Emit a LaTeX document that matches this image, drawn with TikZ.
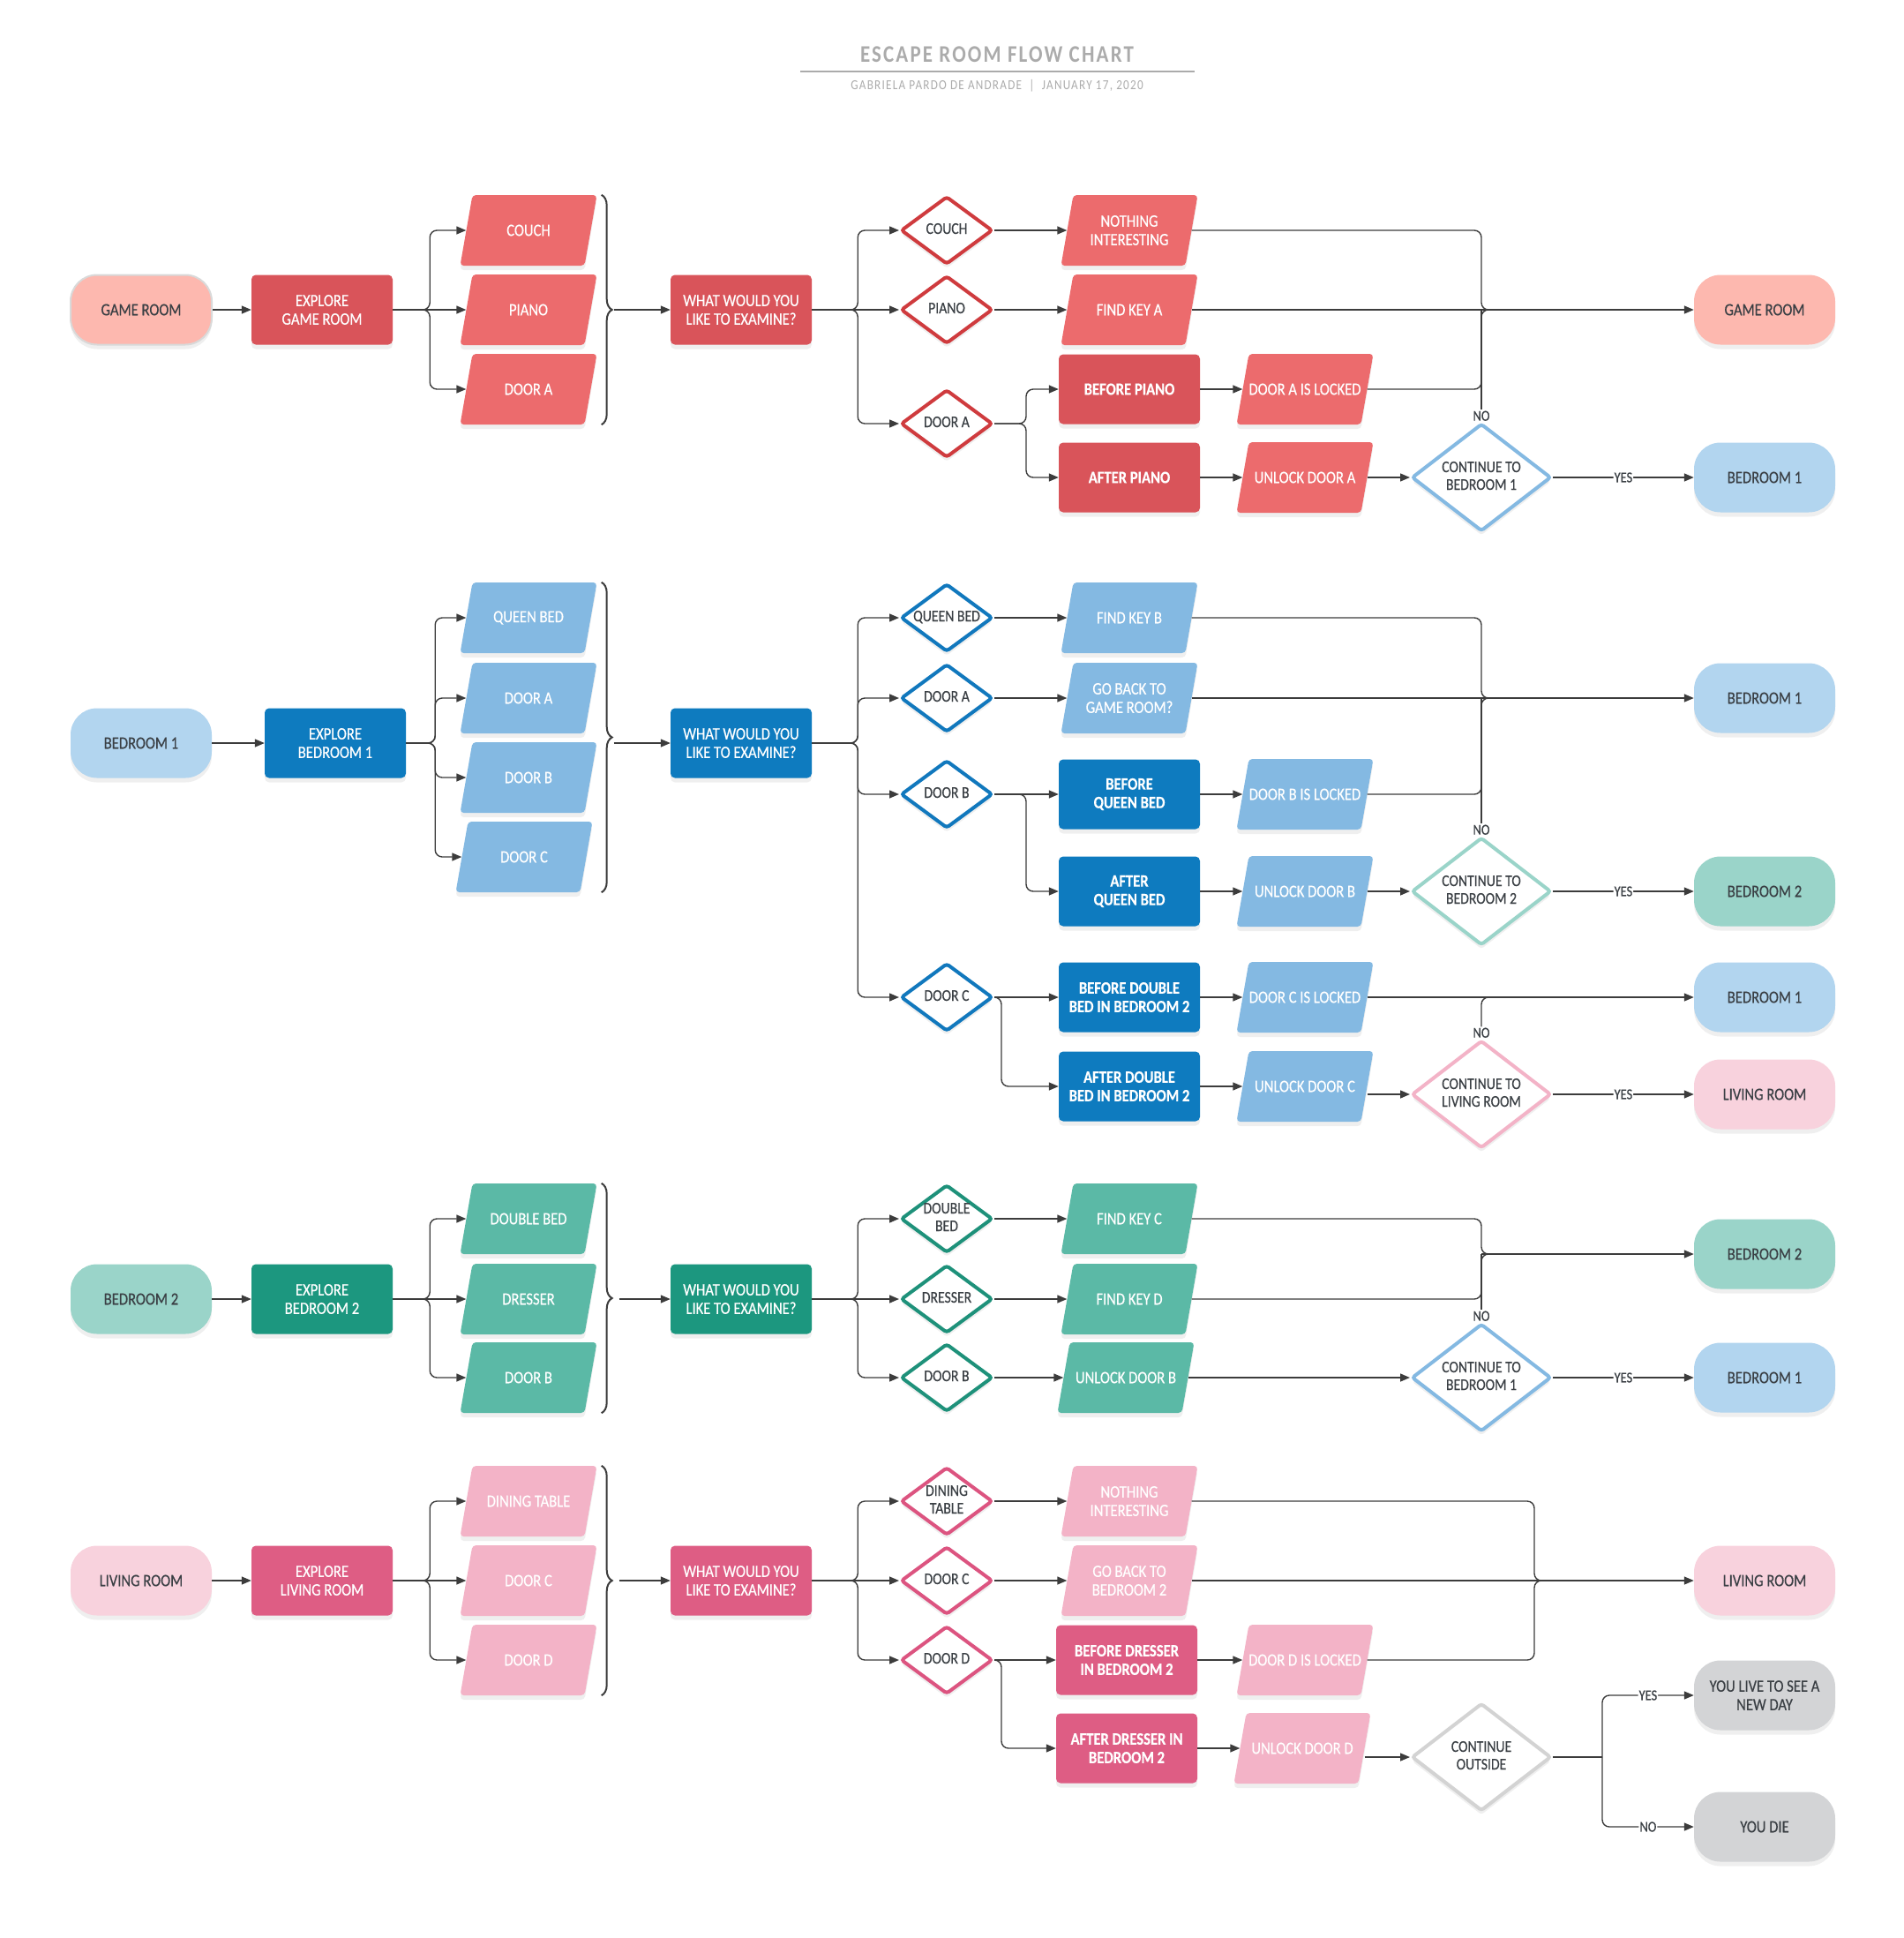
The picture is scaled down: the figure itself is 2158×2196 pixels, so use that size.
\documentclass[tikz,border=0pt]{standalone}
\usepackage{fontspec}
\setmainfont{Carlito}[FakeStretch=0.85,FakeBold=0.4]
\newfontfamily\titlefont{Carlito}[FakeStretch=0.85,LetterSpace=8]
\usetikzlibrary{shapes.geometric,arrows.meta,shadows,decorations.pathreplacing,calc}
\definecolor{txt}{HTML}{3A3F44}
\definecolor{lc}{HTML}{3C3C3C}
\definecolor{titlec}{HTML}{ABABAB}
\definecolor{redT}{HTML}{FDB8AF}
\definecolor{redP}{HTML}{D9545A}
\definecolor{redI}{HTML}{EC6B6D}
\definecolor{redD}{HTML}{CF3B3E}
\definecolor{blueT}{HTML}{B2D5EF}
\definecolor{blueP}{HTML}{0E7BBF}
\definecolor{blueI}{HTML}{84B9E2}
\definecolor{blueD}{HTML}{1178BD}
\definecolor{tealT}{HTML}{9AD4C9}
\definecolor{tealP}{HTML}{1C977F}
\definecolor{tealI}{HTML}{5BB9A6}
\definecolor{tealD}{HTML}{1E917A}
\definecolor{pinkT}{HTML}{F8D2DD}
\definecolor{pinkP}{HTML}{DE5D84}
\definecolor{pinkI}{HTML}{F3B3C7}
\definecolor{pinkD}{HTML}{DC5480}
\definecolor{grayT}{HTML}{D3D4D6}
\definecolor{grayD}{HTML}{D3D3D3}
\newcommand{\dt}[1]{\makebox[0pt]{\begin{tabular}{@{}c@{}}#1\end{tabular}}}
\tikzset{
  shd/.style={drop shadow={shadow xshift=0pt,shadow yshift=-5pt,opacity=0.13}},
  base/.style={font=\fontsize{19.5}{21}\selectfont, align=center, inner sep=2pt},
  term/.style={base, shd, rounded corners=30pt, minimum width=160pt, minimum height=79pt, text=txt},
  proc/.style={base, shd, rounded corners=5pt, minimum width=160pt, minimum height=79pt, text=white},
  bproc/.style={proc, font=\fontsize{19.5}{21}\selectfont\bfseries},
  iotext/.style={base, minimum width=141pt, minimum height=80pt, text=white},
  dec/.style={diamond, fill=white, line width=4pt, rounded corners=3pt, minimum width=104pt, minimum height=77pt,
    inner sep=0pt, font=\fontsize{18.5}{20}\selectfont, text=txt, shd},
  cont/.style={dec, minimum width=158pt, minimum height=122pt},
  lbl/.style={fill=white, inner sep=1pt, font=\fontsize{17}{18}\selectfont, text=txt},
  ln/.style={draw=lc, line width=1.4pt, rounded corners=8pt},
  arr/.style={ln, -{Triangle[length=11pt,width=9pt]}},
  brc/.style={draw=lc, line width=2pt, decorate, decoration={brace, amplitude=12pt}}
}
% parallelogram: name, x, y, colour, text
\newcommand{\para}[5]{%
  \fill[#4, rounded corners=4pt, shd] (#2-77.5,#3+40) -- (#2+63.5,#3+40) -- (#2+77.5,#3-40) -- (#2-63.5,#3-40) -- cycle;
  \node[iotext] (#1) at (#2,#3) {#5};}
\begin{document}
\begin{tikzpicture}[x=1pt,y=-1pt]
\useasboundingbox (0,0) rectangle (2158,2196);
% title
\node[font=\titlefont\fontsize{27}{30}\selectfont\bfseries, text=titlec] (title) at (1130,62) {ESCAPE ROOM FLOW CHART};
\draw[titlec, line width=2pt] (907,81) -- (1354,81);
\node[font=\titlefont\fontsize{15.5}{16}\selectfont, text=titlec] (sub) at (1130,97) {GABRIELA PARDO DE ANDRADE \ | \ JANUARY 17, 2020};

% ===== Section 1: game room =====
\node[term, fill=redT, draw=gray!30, line width=2pt] (s1) at (160,351) {GAME ROOM};
\node[proc, fill=redP] (x1) at (365,351) {EXPLORE\\GAME ROOM};
\para{p1a}{599}{261}{redI}{COUCH}
\para{p1b}{599}{351}{redI}{PIANO}
\para{p1c}{599}{441}{redI}{DOOR A}
\node[proc, fill=redP] (q1) at (840,351) {WHAT WOULD YOU\\LIKE TO EXAMINE?};
\node[dec, draw=redD] (d1a) at (1073,261) {\dt{COUCH}};
\node[dec, draw=redD] (d1b) at (1073,351) {\dt{PIANO}};
\node[dec, draw=redD] (d1c) at (1073,480) {\dt{DOOR A}};
\para{r1a}{1280}{261}{redI}{NOTHING\\INTERESTING}
\para{r1b}{1280}{351}{redI}{FIND KEY A}
\node[bproc, fill=redP] (b1) at (1280,441) {BEFORE PIANO};
\node[bproc, fill=redP] (a1) at (1280,541) {AFTER PIANO};
\para{l1}{1479}{441}{redI}{DOOR A IS LOCKED}
\para{u1}{1479}{541}{redI}{UNLOCK DOOR A}
\node[cont, draw=blueI] (c1) at (1679,541) {\dt{CONTINUE TO\\BEDROOM 1}};
\node[term, fill=redT] (e1a) at (2000,351) {GAME ROOM};
\node[term, fill=blueT] (e1b) at (2000,541) {BEDROOM 1};
\node[lbl, anchor=south] (n1) at (c1.north) {NO};

\draw[arr] (s1) -- (x1);
\draw[arr] (x1.east) -- (p1b.west);
\foreach \t in {p1a,p1c} \draw[arr] (x1.east) -- ([xshift=42pt]x1.east) |- (\t.west);
\draw[brc] ([xshift=12pt]p1a.north east) -- ([xshift=12pt]p1a.north east |- p1c.south);
\coordinate (bt1) at ([xshift=26pt]p1a.north east |- q1.west);
\draw[arr] (bt1) -- (q1.west);
\draw[arr] (q1.east) -- (d1b.west);
\foreach \t in {d1a,d1c} \draw[arr] (q1.east) -- ([xshift=52pt]q1.east) |- (\t.west);
\draw[arr] (d1a) -- (r1a);
\draw[arr] (d1b) -- (r1b);
\foreach \t in {b1,a1} \draw[arr] (d1c.east) -- ([xshift=36pt]d1c.east) |- (\t.west);
\draw[arr] (b1) -- (l1);
\draw[arr] (a1) -- (u1);
\draw[arr] (u1) -- (c1);
\draw[arr] (c1) -- node[lbl]{YES} (e1b);
\draw[arr] (r1b.east) -- (e1a.west);
\coordinate (m1) at (c1.north |- e1a.west);
\draw[ln] (r1a.east) -| (m1) -- ++(25,0);
\draw[ln] (l1.east) -| (m1) -- ++(25,0);
\draw[ln] (n1.north) -- (m1);

% ===== Section 2: bedroom 1 =====
\node[term, fill=blueT] (s2) at (160,842) {BEDROOM 1};
\node[proc, fill=blueP] (x2) at (380,842) {EXPLORE\\BEDROOM 1};
\para{p2a}{599}{700}{blueI}{QUEEN BED}
\para{p2b}{599}{791}{blueI}{DOOR A}
\para{p2c}{599}{881}{blueI}{DOOR B}
\para{p2d}{594}{971}{blueI}{DOOR C}
\node[proc, fill=blueP] (q2) at (840,842) {WHAT WOULD YOU\\LIKE TO EXAMINE?};
\node[dec, draw=blueD] (d2a) at (1073,700) {\dt{QUEEN BED}};
\node[dec, draw=blueD] (d2b) at (1073,791) {\dt{DOOR A}};
\node[dec, draw=blueD] (d2c) at (1073,900) {\dt{DOOR B}};
\node[dec, draw=blueD] (d2d) at (1073,1130) {\dt{DOOR C}};
\para{r2a}{1280}{700}{blueI}{FIND KEY B}
\para{r2b}{1280}{791}{blueI}{GO BACK TO\\GAME ROOM?}
\node[bproc, fill=blueP] (b2) at (1280,900) {BEFORE\\QUEEN BED};
\node[bproc, fill=blueP] (a2) at (1280,1010) {AFTER\\QUEEN BED};
\para{l2}{1479}{900}{blueI}{DOOR B IS LOCKED}
\para{u2}{1479}{1010}{blueI}{UNLOCK DOOR B}
\node[cont, draw=tealT] (c2) at (1679,1010) {\dt{CONTINUE TO\\BEDROOM 2}};
\node[term, fill=blueT] (e2a) at (2000,791) {BEDROOM 1};
\node[term, fill=tealT] (e2b) at (2000,1010) {BEDROOM 2};
\node[bproc, fill=blueP] (b3) at (1280,1130) {BEFORE DOUBLE\\BED IN BEDROOM 2};
\node[bproc, fill=blueP] (a3) at (1280,1231) {AFTER DOUBLE\\BED IN BEDROOM 2};
\para{l3}{1479}{1130}{blueI}{DOOR C IS LOCKED}
\para{u3}{1479}{1231}{blueI}{UNLOCK DOOR C}
\node[cont, draw=pinkI] (c3) at (1679,1240) {\dt{CONTINUE TO\\LIVING ROOM}};
\node[term, fill=blueT] (e2c) at (2000,1130) {BEDROOM 1};
\node[term, fill=pinkT] (e2d) at (2000,1240) {LIVING ROOM};
\node[lbl, anchor=south] (n2) at (c2.north) {NO};
\node[lbl, anchor=south] (n3) at (c3.north) {NO};

\draw[arr] (s2) -- (x2);
\foreach \t in {p2a,p2b,p2c,p2d} \draw[arr] (x2.east) -- ([xshift=33pt]x2.east) |- (\t.west);
\draw[brc] ([xshift=12pt]p2a.north east) -- ([xshift=12pt]p2a.north east |- p2d.south);
\coordinate (bt2) at ([xshift=26pt]p2a.north east |- q2.west);
\draw[arr] (bt2) -- (q2.west);
\foreach \t in {d2a,d2b,d2c,d2d} \draw[arr] (q2.east) -- ([xshift=52pt]q2.east) |- (\t.west);
\draw[arr] (d2a) -- (r2a);
\draw[arr] (d2b) -- (r2b);
\draw[arr] (d2c) -- (b2);
\draw[arr] (d2c.east) -- ([xshift=36pt]d2c.east) |- (a2.west);
\draw[arr] (b2) -- (l2);
\draw[arr] (a2) -- (u2);
\draw[arr] (u2) -- (c2);
\draw[arr] (c2) -- node[lbl]{YES} (e2b);
\draw[arr] (r2b.east) -- (e2a.west);
\coordinate (m2) at (c2.north |- e2a.west);
\draw[ln] (r2a.east) -| (m2) -- ++(25,0);
\draw[ln] (l2.east) -| (m2) -- ++(25,0);
\draw[ln] (n2.north) -- (m2);
\draw[arr] (d2d) -- (b3);
\draw[arr] (d2d.east) -- ([xshift=8pt]d2d.east) |- (a3.west);
\draw[arr] (b3) -- (l3);
\draw[arr] (a3) -- (u3);
\draw[arr] (u3.east |- c3.west) -- (c3.west);
\draw[arr] (c3) -- node[lbl]{YES} (e2d);
\draw[arr] (l3.east) -- (e2c.west);
\draw[ln] (n3.north) |- ([xshift=30pt]n3.north |- e2c.west);

% ===== Section 3: bedroom 2 =====
\node[term, fill=tealT] (s3) at (160,1472) {BEDROOM 2};
\node[proc, fill=tealP] (x3) at (365,1472) {EXPLORE\\BEDROOM 2};
\para{p3a}{599}{1381}{tealI}{DOUBLE BED}
\para{p3b}{599}{1472}{tealI}{DRESSER}
\para{p3c}{599}{1561}{tealI}{DOOR B}
\node[proc, fill=tealP] (q3) at (840,1472) {WHAT WOULD YOU\\LIKE TO EXAMINE?};
\node[dec, draw=tealD] (d3a) at (1073,1381) {\dt{DOUBLE\\BED}};
\node[dec, draw=tealD] (d3b) at (1073,1472) {\dt{DRESSER}};
\node[dec, draw=tealD] (d3c) at (1073,1561) {\dt{DOOR B}};
\para{r3a}{1280}{1381}{tealI}{FIND KEY C}
\para{r3b}{1280}{1472}{tealI}{FIND KEY D}
\para{r3c}{1276}{1561}{tealI}{UNLOCK DOOR B}
\node[cont, draw=blueI] (c4) at (1679,1561) {\dt{CONTINUE TO\\BEDROOM 1}};
\node[term, fill=tealT] (e3a) at (2000,1421) {BEDROOM 2};
\node[term, fill=blueT] (e3b) at (2000,1561) {BEDROOM 1};
\node[lbl, anchor=south] (n4) at (c4.north) {NO};

\draw[arr] (s3) -- (x3);
\draw[arr] (x3.east) -- (p3b.west);
\foreach \t in {p3a,p3c} \draw[arr] (x3.east) -- ([xshift=42pt]x3.east) |- (\t.west);
\draw[brc] ([xshift=12pt]p3a.north east) -- ([xshift=12pt]p3a.north east |- p3c.south);
\coordinate (bt3) at ([xshift=32pt]p3a.north east |- q3.west);
\draw[arr] (bt3) -- (q3.west);
\draw[arr] (q3.east) -- (d3b.west);
\foreach \t in {d3a,d3c} \draw[arr] (q3.east) -- ([xshift=52pt]q3.east) |- (\t.west);
\draw[arr] (d3a) -- (r3a);
\draw[arr] (d3b) -- (r3b);
\draw[arr] (d3c) -- (r3c);
\draw[arr] (r3c) -- (c4);
\draw[arr] (c4) -- node[lbl]{YES} (e3b);
\coordinate (m4) at (c4.north |- e3a.west);
\draw[arr] (m4) -- (e3a.west);
\draw[ln] (r3a.east) -| (m4) -- ++(25,0);
\draw[ln] (r3b.east) -| (m4) -- ++(25,0);
\draw[ln] (n4.north) -- (m4);

% ===== Section 4: living room =====
\node[term, fill=pinkT] (s4) at (160,1791) {LIVING ROOM};
\node[proc, fill=pinkP] (x4) at (365,1791) {EXPLORE\\LIVING ROOM};
\para{p4a}{599}{1701}{pinkI}{DINING TABLE}
\para{p4b}{599}{1791}{pinkI}{DOOR C}
\para{p4c}{599}{1881}{pinkI}{DOOR D}
\node[proc, fill=pinkP] (q4) at (840,1791) {WHAT WOULD YOU\\LIKE TO EXAMINE?};
\node[dec, draw=pinkD] (d4a) at (1073,1701) {\dt{DINING\\TABLE}};
\node[dec, draw=pinkD] (d4b) at (1073,1791) {\dt{DOOR C}};
\node[dec, draw=pinkD] (d4c) at (1073,1881) {\dt{DOOR D}};
\para{r4a}{1280}{1701}{pinkI}{NOTHING\\INTERESTING}
\para{r4b}{1280}{1791}{pinkI}{GO BACK TO\\BEDROOM 2}
\node[bproc, fill=pinkP] (b4) at (1277,1881) {BEFORE DRESSER\\IN BEDROOM 2};
\node[bproc, fill=pinkP] (a4) at (1277,1981) {AFTER DRESSER IN\\BEDROOM 2};
\para{l4}{1479}{1881}{pinkI}{DOOR D IS LOCKED}
\para{u4}{1476}{1981}{pinkI}{UNLOCK DOOR D}
\node[cont, draw=grayD] (c5) at (1679,1991) {\dt{CONTINUE\\OUTSIDE}};
\node[term, fill=pinkT] (e4a) at (2000,1791) {LIVING ROOM};
\node[term, fill=grayT] (e4b) at (2000,1921) {YOU LIVE TO SEE A\\NEW DAY};
\node[term, fill=grayT] (e4c) at (2000,2070) {YOU DIE};

\draw[arr] (s4) -- (x4);
\draw[arr] (x4.east) -- (p4b.west);
\foreach \t in {p4a,p4c} \draw[arr] (x4.east) -- ([xshift=42pt]x4.east) |- (\t.west);
\draw[brc] ([xshift=12pt]p4a.north east) -- ([xshift=12pt]p4a.north east |- p4c.south);
\coordinate (bt4) at ([xshift=32pt]p4a.north east |- q4.west);
\draw[arr] (bt4) -- (q4.west);
\draw[arr] (q4.east) -- (d4b.west);
\foreach \t in {d4a,d4c} \draw[arr] (q4.east) -- ([xshift=52pt]q4.east) |- (\t.west);
\draw[arr] (d4a) -- (r4a);
\draw[arr] (d4b) -- (r4b);
\draw[arr] (d4c) -- (b4);
\draw[arr] (d4c.east) -- ([xshift=8pt]d4c.east) |- (a4.west);
\draw[arr] (b4) -- (l4);
\draw[arr] (a4) -- (u4);
\draw[arr] (u4.east |- c5.west) -- (c5.west);
\draw[arr] (r4b.east) -- (e4a.west);
\coordinate (m5) at ([xshift=60pt]c5.north |- e4a.west);
\draw[ln] (r4a.east) -| (m5) -- ++(25,0);
\draw[ln] (l4.east) -| (m5) -- ++(25,0);
\coordinate (s5) at ([xshift=56pt]c5.east);
\draw[ln] (c5.east) -- (s5);
\draw[arr] (s5) |- node[lbl, pos=0.75]{YES} (e4b.west);
\draw[arr] (s5) |- node[lbl, pos=0.75]{NO} (e4c.west);
\end{tikzpicture}
\end{document}
